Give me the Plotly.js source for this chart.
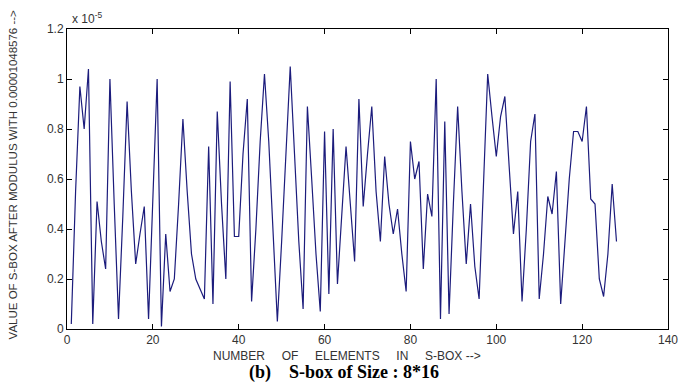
<!DOCTYPE html>
<html>
<head>
<meta charset="utf-8">
<script src="https://cdn.plot.ly/plotly-3.0.1.min.js"></script>
<style>html,body{margin:0;padding:0;background:#fff;}#chart{width:680px;height:384px;}</style>
</head>
<body>
<div id="chart"></div>
<script>
// S-box element index (1..128)
const elementIndex = Array.from({length: 128}, (_, i) => i + 1);
// Value of S-box after modulus (units of 1e-5)
const sboxValues = [
  0.02, 0.55, 0.97, 0.80, 1.04, 0.02, 0.51, 0.35, 0.24, 1.00,
  0.50, 0.04, 0.45, 0.91, 0.55, 0.26, 0.38, 0.49, 0.04, 0.50,
  1.00, 0.01, 0.38, 0.15, 0.20, 0.50, 0.84, 0.55, 0.30, 0.20,
  0.16, 0.12, 0.73, 0.10, 0.87, 0.50, 0.20, 0.99, 0.37, 0.37,
  0.70, 0.92, 0.11, 0.40, 0.75, 1.02, 0.75, 0.40, 0.03, 0.35,
  0.70, 1.05, 0.70, 0.35, 0.08, 0.89, 0.60, 0.30, 0.07, 0.79,
  0.14, 0.80, 0.18, 0.45, 0.73, 0.50, 0.27, 0.92, 0.49, 0.70,
  0.89, 0.55, 0.35, 0.69, 0.50, 0.38, 0.48, 0.30, 0.15, 0.75,
  0.60, 0.67, 0.24, 0.54, 0.45, 1.00, 0.04, 0.83, 0.06, 0.50,
  0.89, 0.55, 0.26, 0.50, 0.25, 0.12, 0.60, 1.02, 0.85, 0.69,
  0.85, 0.93, 0.65, 0.38, 0.55, 0.11, 0.40, 0.75, 0.86, 0.12,
  0.30, 0.53, 0.46, 0.63, 0.10, 0.35, 0.60, 0.79, 0.79, 0.75,
  0.89, 0.52, 0.50, 0.20, 0.13, 0.30, 0.58, 0.35
];
const xTickVals = [0, 20, 40, 60, 80, 100, 120, 140];
const yTickVals = [0, 0.2, 0.4, 0.6, 0.8, 1, 1.2];
const yTickText = ["0", "0.2", "0.4", "0.6", "0.8", "1", "1.2"];

const yTitle = "VALUE OF S-BOX AFTER MODULUS WITH 0.00001048576 -->";
const gap = "&nbsp;".repeat(5);
const xTitle = ["NUMBER", "OF", "ELEMENTS", "IN", "S-BOX -->"].join(gap);
const caption = "(b)" + "&nbsp;".repeat(4) + "S-box of Size : 8*16";

const trace = {
  x: elementIndex, y: sboxValues, type: 'scatter', mode: 'lines',
  line: {color: '#1c1c7c', width: 1.2}, hoverinfo: 'skip'
};

const axisCommon = {
  showline: true, linecolor: '#000', linewidth: 1, mirror: 'ticks',
  ticks: 'inside', ticklen: 5, tickcolor: '#000', showgrid: false, zeroline: false,
  tickfont: {family: 'Liberation Sans, Arial, sans-serif', size: 12, color: '#333'}
};

const layout = {
  width: 680, height: 384,
  margin: {l: 67, r: 12, t: 29, b: 55},
  paper_bgcolor: '#fff', plot_bgcolor: '#fff',
  showlegend: false,
  xaxis: Object.assign({}, axisCommon, {range: [0, 140], tickvals: xTickVals, ticktext: xTickVals.map(String), ticklabelstandoff: 0}),
  yaxis: Object.assign({}, axisCommon, {range: [0, 1.2], tickvals: yTickVals, ticktext: yTickText}),
  annotations: [
    {xref: 'paper', yref: 'paper', x: 0.466, y: -0.09, text: xTitle, showarrow: false,
     xanchor: 'center', yanchor: 'middle', font: {family: 'Liberation Sans, Arial, sans-serif', size: 12, color: '#333'}},
    {xref: 'paper', yref: 'paper', x: 0.461, y: -0.145, text: '<b>' + caption + '</b>', showarrow: false,
     xanchor: 'center', yanchor: 'middle', font: {family: 'Liberation Serif, Times New Roman, serif', size: 18, color: '#000'}},
    {xref: 'paper', yref: 'paper', x: -0.09, y: 0.515, text: yTitle, textangle: -90, showarrow: false,
     xanchor: 'center', yanchor: 'middle', font: {family: 'Liberation Sans, Arial, sans-serif', size: 11.5, color: '#333'}},
    {xref: 'paper', yref: 'paper', x: 0.005, y: 1.005, text: 'x 10<sup>-5</sup>', showarrow: false,
     xanchor: 'left', yanchor: 'bottom', font: {family: 'Liberation Sans, Arial, sans-serif', size: 12, color: '#333'}}
  ]
};

Plotly.newPlot('chart', [trace], layout, {displayModeBar: false, staticPlot: true});
</script>
</body>
</html>
